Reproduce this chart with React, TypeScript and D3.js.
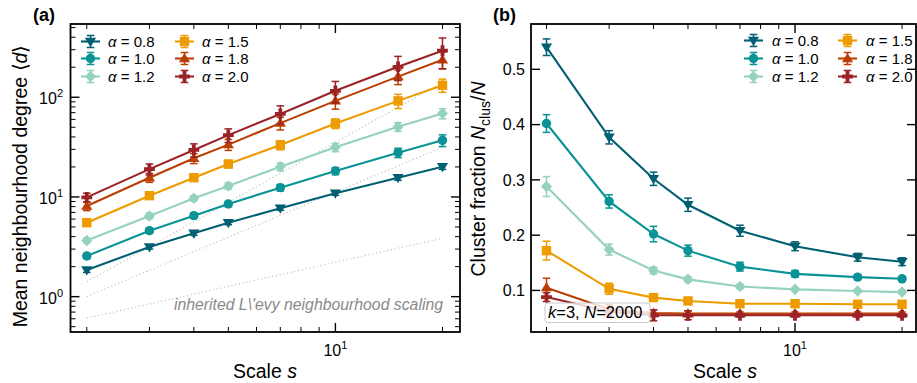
import React from "react";
import * as d3 from "d3";

// ---------- data ----------
const S = [2, 3, 4, 5, 7, 10, 15, 20];
const ALPHA_LABELS = ["0.8", "1.0", "1.2", "1.5", "1.8", "2.0"];
const COLORS = ["#005f73", "#0a9396", "#94d2bd", "#ee9b00", "#bb3e03", "#9b2226"];
const MARKERS = ["v", "o", "D", "s", "^", "P"];

// panel (a): mean neighbourhood degree
const deg08 = [1.85, 3.15, 4.32, 5.52, 7.7, 10.9, 15.6, 20.1];
const deg08Err = [0.1, 0.15, 0.2, 0.25, 0.35, 0.5, 0.9, 1.2];
const deg10 = [2.56, 4.59, 6.49, 8.5, 12.4, 18.2, 27.8, 37.0];
const deg10Err = [0.15, 0.25, 0.35, 0.5, 0.9, 1.5, 3.0, 5.0];
const deg12 = [3.65, 6.45, 9.7, 12.9, 20.1, 31.5, 50.5, 68.7];
const deg12Err = [0.2, 0.4, 0.6, 0.9, 1.8, 3.0, 5.0, 8.0];
const deg15 = [5.52, 10.3, 15.6, 21.4, 33.2, 54.6, 92.0, 132.0];
const deg15Err = [0.35, 0.7, 1.2, 1.8, 3.5, 6.0, 15.0, 20.0];
const deg18 = [8.1, 15.6, 24.4, 33.5, 55.0, 92.0, 161.0, 238.0];
const deg18Err = [0.8, 1.6, 2.8, 4.2, 8.0, 16.0, 27.0, 45.0];
const deg20 = [9.9, 19.0, 29.6, 41.7, 68.0, 116.0, 202.0, 293.0];
const deg20Err = [1.0, 2.4, 4.5, 6.5, 14.0, 28.0, 55.0, 100.0];

// reference (dotted) scaling lines: value at s=2 and at s=20
const REF_S = [2, 20];
const refLow = [0.61, 3.85];
const refMid = [1.0, 31.5];
const refHigh = [1.41, 141.0];

// panel (b): cluster fraction
const clu08 = [0.54, 0.377, 0.302, 0.255, 0.208, 0.18, 0.16, 0.152];
const clu08Err = [0.015, 0.012, 0.012, 0.012, 0.01, 0.008, 0.007, 0.007];
const clu10 = [0.402, 0.261, 0.202, 0.172, 0.143, 0.13, 0.124, 0.121];
const clu10Err = [0.016, 0.012, 0.014, 0.01, 0.008, 0.006, 0.004, 0.003];
const clu12 = [0.288, 0.174, 0.136, 0.12, 0.107, 0.102, 0.099, 0.097];
const clu12Err = [0.018, 0.01, 0.006, 0.005, 0.004, 0.003, 0.003, 0.003];
const clu15 = [0.172, 0.103, 0.087, 0.081, 0.076, 0.076, 0.075, 0.075];
const clu15Err = [0.017, 0.01, 0.006, 0.005, 0.004, 0.003, 0.003, 0.003];
const clu18 = [0.105, 0.066, 0.059, 0.058, 0.058, 0.058, 0.058, 0.058];
const clu18Err = [0.017, 0.008, 0.006, 0.005, 0.003, 0.003, 0.003, 0.003];
const clu20 = [0.088, 0.062, 0.055, 0.055, 0.055, 0.055, 0.055, 0.055];
const clu20Err = [0.008, 0.006, 0.01, 0.008, 0.003, 0.003, 0.003, 0.003];

const X_MAJOR = [10];
const X_MINOR = [2, 3, 4, 5, 6, 7, 8, 9, 20];
const YA_MAJOR = [1, 10, 100];
const YA_MINOR = [0.5, 0.6, 0.7, 0.8, 0.9, 2, 3, 4, 5, 6, 7, 8, 9, 20, 30, 40, 50, 60, 70, 80, 90, 200, 300, 400, 500];
const YA_EXP = ["0", "1", "2"];
const YB_TICKS = [0.1, 0.2, 0.3, 0.4, 0.5];

const DEG = [deg08, deg10, deg12, deg15, deg18, deg20];
const DEG_ERR = [deg08Err, deg10Err, deg12Err, deg15Err, deg18Err, deg20Err];
const CLU = [clu08, clu10, clu12, clu15, clu18, clu20];
const CLU_ERR = [clu08Err, clu10Err, clu12Err, clu15Err, clu18Err, clu20Err];
const REFS = [refLow, refMid, refHigh];

const FONT = "'Liberation Sans', Arial, Helvetica, sans-serif";

// ---------- layout ----------
const A = { x0: 70.5, x1: 460, y0: 24, y1: 332 };
const B = { x0: 531, x1: 916, y0: 24, y1: 332 };

const xA = d3.scaleLog().domain([1.8, 22.4]).range([A.x0, A.x1]);
const yA = d3.scaleLog().domain([0.442, 543]).range([A.y1, A.y0]);
const xB = d3.scaleLog().domain([1.809, 21.89]).range([B.x0, B.x1]);
const yB = d3.scaleLinear().domain([0.0248, 0.582]).range([B.y1, B.y0]);

const TICK_FS = 16;
const SUP_FS = 11;
const LABEL_FS = 19.5;

function Marker({ type, x, y, color }: any) {
  const t = `translate(${x},${y})`;
  if (type === "o") return <circle cx={x} cy={y} r={4.7} fill={color} />;
  if (type === "s") return <rect x={x - 4.7} y={y - 4.7} width={9.4} height={9.4} fill={color} />;
  if (type === "D") return <path transform={t} d="M0,-5.8L5.4,0L0,5.8L-5.4,0Z" fill={color} />;
  if (type === "v") return <path transform={t} d="M-5.6,-3.7L5.6,-3.7L0,5.6Z" fill={color} />;
  if (type === "^") return <path transform={t} d="M0,-5.6L5.6,3.7L-5.6,3.7Z" fill={color} />;
  return (
    <path
      transform={t}
      d="M-1.9,-5.4H1.9V-1.9H5.4V1.9H1.9V5.4H-1.9V1.9H-5.4V-1.9H-1.9Z"
      fill={color}
    />
  );
}

function ErrBar({ x, yTop, yBot, color }: any) {
  return (
    <g stroke={color} strokeWidth={1.5}>
      <line x1={x} x2={x} y1={yTop} y2={yBot} />
      <line x1={x - 3.8} x2={x + 3.8} y1={yTop} y2={yTop} />
      <line x1={x - 3.8} x2={x + 3.8} y1={yBot} y2={yBot} />
    </g>
  );
}

function Series({ xs, ys, errs, xScale, yScale, color, marker }: any) {
  const pts = xs.map((s: number, i: number) => [xScale(s), yScale(ys[i])]);
  const line = d3.line()(pts) || "";
  return (
    <g>
      <path d={line} fill="none" stroke={color} strokeWidth={2.1} />
      {xs.map((s: number, i: number) => (
        <ErrBar
          key={"e" + i}
          x={xScale(s)}
          yTop={yScale(ys[i] + errs[i])}
          yBot={yScale(ys[i] - errs[i])}
          color={color}
        />
      ))}
      {xs.map((s: number, i: number) => (
        <Marker key={"m" + i} type={marker} x={xScale(s)} y={yScale(ys[i])} color={color} />
      ))}
    </g>
  );
}

function Frame({ box, xScale, yScale, yMajor, yMinor }: any) {
  const M = 9;
  const m = 5;
  const els: any[] = [];
  X_MAJOR.forEach((v, i) => {
    const x = xScale(v);
    els.push(<line key={"xb" + i} x1={x} x2={x} y1={box.y1} y2={box.y1 - M} strokeWidth={1.4} />);
    els.push(<line key={"xt" + i} x1={x} x2={x} y1={box.y0} y2={box.y0 + M} strokeWidth={1.4} />);
  });
  X_MINOR.forEach((v, i) => {
    const x = xScale(v);
    els.push(<line key={"xmb" + i} x1={x} x2={x} y1={box.y1} y2={box.y1 - m} strokeWidth={1} />);
    els.push(<line key={"xmt" + i} x1={x} x2={x} y1={box.y0} y2={box.y0 + m} strokeWidth={1} />);
  });
  yMajor.forEach((v: number, i: number) => {
    const y = yScale(v);
    els.push(<line key={"yl" + i} x1={box.x0} x2={box.x0 + M} y1={y} y2={y} strokeWidth={1.4} />);
    els.push(<line key={"yr" + i} x1={box.x1} x2={box.x1 - M} y1={y} y2={y} strokeWidth={1.4} />);
  });
  yMinor.forEach((v: number, i: number) => {
    const y = yScale(v);
    els.push(<line key={"yml" + i} x1={box.x0} x2={box.x0 + m} y1={y} y2={y} strokeWidth={1} />);
    els.push(<line key={"ymr" + i} x1={box.x1} x2={box.x1 - m} y1={y} y2={y} strokeWidth={1} />);
  });
  return (
    <g stroke="#000">
      {els}
      <rect
        x={box.x0}
        y={box.y0}
        width={box.x1 - box.x0}
        height={box.y1 - box.y0}
        fill="none"
        strokeWidth={1.8}
      />
    </g>
  );
}

function Legend({ handleX, textX, rowsY }: any) {
  return (
    <g>
      {ALPHA_LABELS.map((lab, i) => {
        const col = Math.floor(i / 3);
        const row = i % 3;
        const hx = handleX[col];
        const y = rowsY[row];
        const cx = hx + 9.5;
        return (
          <g key={i}>
            <line x1={hx} x2={hx + 19} y1={y} y2={y} stroke={COLORS[i]} strokeWidth={2.1} />
            <ErrBar x={cx} yTop={y - 6} yBot={y + 6} color={COLORS[i]} />
            <Marker type={MARKERS[i]} x={cx} y={y} color={COLORS[i]} />
            <text x={textX[col]} y={y + 5.3} fontSize={15} fontFamily={FONT} fill="#000">
              <tspan fontStyle="italic">α</tspan>
              <tspan>{" = " + lab}</tspan>
            </text>
          </g>
        );
      })}
    </g>
  );
}

export default function App() {
  return (
    <svg
      width={917}
      height={383}
      viewBox="0 0 917 383"
      style={{ position: "absolute", left: 0, top: 0, background: "#fff" }}
      fontFamily={FONT}
    >
      <rect x={0} y={0} width={917} height={383} fill="#fff" />

      {/* ---------------- panel (a) ---------------- */}
      <text x={33} y={21} fontSize={18} fontWeight="bold">(a)</text>
      {REFS.map((r, i) => (
        <line
          key={"ref" + i}
          x1={xA(REF_S[0])}
          y1={yA(r[0])}
          x2={xA(REF_S[1])}
          y2={yA(r[1])}
          stroke="#c4c4c4"
          strokeWidth={1.2}
          strokeDasharray="1.2,2.6"
        />
      ))}
      <text x={443} y={310} fontSize={15.8} fontStyle="italic" fill="#8a8a8a" textAnchor="end">
        {"inherited L\\'evy neighbourhood scaling"}
      </text>
      {DEG.map((ys, i) => (
        <Series
          key={"a" + i}
          xs={S}
          ys={ys}
          errs={DEG_ERR[i]}
          xScale={xA}
          yScale={yA}
          color={COLORS[i]}
          marker={MARKERS[i]}
        />
      ))}
      <Frame box={A} xScale={xA} yScale={yA} yMajor={YA_MAJOR} yMinor={YA_MINOR} />
      {YA_MAJOR.map((v, i) => (
        <text key={"yal" + i} x={63} y={yA(v) + 7} fontSize={TICK_FS} textAnchor="end">
          10
          <tspan dy={-7} fontSize={SUP_FS}>{YA_EXP[i]}</tspan>
        </text>
      ))}
      <text x={xA(10)} y={356} fontSize={TICK_FS} textAnchor="middle">
        10
        <tspan dy={-7} fontSize={SUP_FS}>1</tspan>
      </text>
      <text x={265} y={378} fontSize={LABEL_FS} textAnchor="middle">
        Scale <tspan fontStyle="italic">s</tspan>
      </text>
      <text transform="translate(27,186) rotate(-90)" fontSize={LABEL_FS} textAnchor="middle">
        Mean neighbourhood degree ⟨<tspan fontStyle="italic">d</tspan>⟩
      </text>
      <Legend handleX={[81, 175]} textX={[108, 202]} rowsY={[41.5, 58.5, 76.5]} />

      {/* ---------------- panel (b) ---------------- */}
      <text x={493} y={21} fontSize={18} fontWeight="bold">(b)</text>
      {CLU.map((ys, i) => (
        <Series
          key={"b" + i}
          xs={S}
          ys={ys}
          errs={CLU_ERR[i]}
          xScale={xB}
          yScale={yB}
          color={COLORS[i]}
          marker={MARKERS[i]}
        />
      ))}
      <rect
        x={545}
        y={303}
        width={105}
        height={19.5}
        rx={3}
        fill="#fff"
        fillOpacity={0.8}
        stroke="#c8c8c8"
        strokeWidth={1}
      />
      <text x={548} y={318} fontSize={16.5}>
        <tspan fontStyle="italic">k</tspan>=3, <tspan fontStyle="italic">N</tspan>=2000
      </text>
      <Frame box={B} xScale={xB} yScale={yB} yMajor={YB_TICKS} yMinor={[]} />
      {YB_TICKS.map((v, i) => (
        <text key={"ybl" + i} x={525} y={yB(v) + 5.7} fontSize={TICK_FS} textAnchor="end">
          {d3.format(".1f")(v)}
        </text>
      ))}
      <text x={xB(10)} y={356} fontSize={TICK_FS} textAnchor="middle">
        10
        <tspan dy={-7} fontSize={SUP_FS}>1</tspan>
      </text>
      <text x={725} y={378} fontSize={LABEL_FS} textAnchor="middle">
        Scale <tspan fontStyle="italic">s</tspan>
      </text>
      <text transform="translate(485,179) rotate(-90)" fontSize={LABEL_FS} textAnchor="middle">
        Cluster fraction <tspan fontStyle="italic">N</tspan>
        <tspan dy={4.5} fontSize={14}>clus</tspan>
        <tspan dy={-4.5}>/</tspan>
        <tspan fontStyle="italic">N</tspan>
      </text>
      <Legend handleX={[744, 838]} textX={[772, 866]} rowsY={[40.5, 58.5, 76.5]} />
    </svg>
  );
}
